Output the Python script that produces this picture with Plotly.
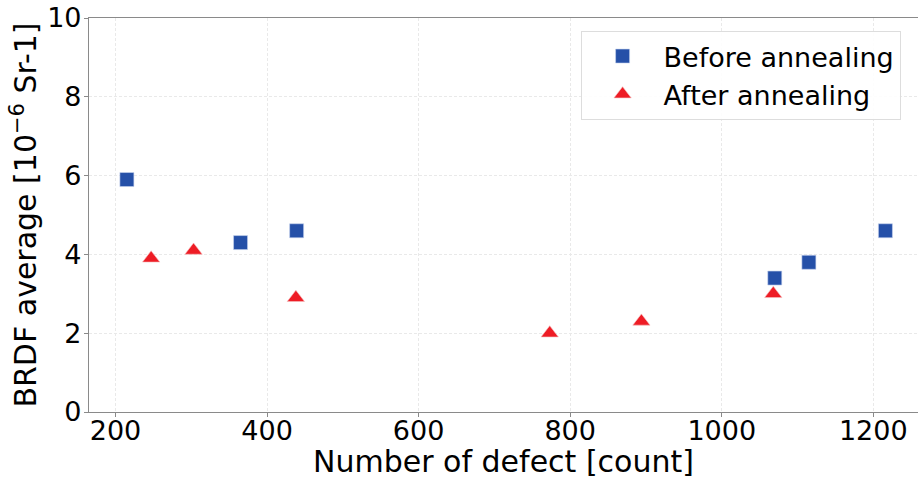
import plotly.graph_objects as go

before_x = [215, 365, 439, 1070, 1115, 1216]
before_y = [5.9, 4.3, 4.6, 3.4, 3.8, 4.6]
after_x = [247, 303, 438, 773, 894, 1068]
after_y = [3.9, 4.1, 2.9, 2.0, 2.3, 3.0]

font = "DejaVu Sans, Arial, sans-serif"

fig = go.Figure()
fig.add_trace(go.Scatter(x=before_x, y=before_y, mode="markers", name="Before annealing",
                         marker=dict(symbol="square", size=14, color="#2550A8",
                                     line=dict(width=0.6, color="#c8d4ee"))))
fig.add_trace(go.Scatter(x=after_x, y=after_y, mode="markers", name="After annealing",
                         marker=dict(symbol="triangle-up", size=15, color="#EE1C25",
                                     line=dict(width=0.6, color="#f5c0c0"))))

fig.update_layout(
    width=918, height=479,
    margin=dict(l=89, r=0, t=18, b=67, autoexpand=False),
    paper_bgcolor="white", plot_bgcolor="white",
    font=dict(family=font, size=26, color="black"),
    showlegend=True,
    legend=dict(x=0.593, y=0.967, xanchor="left", yanchor="top",
                bgcolor="rgba(255,255,255,0.9)", bordercolor="#dddddd", borderwidth=1,
                font=dict(size=27), itemwidth=72, tracegroupgap=0),
    xaxis=dict(range=[165, 1259], tickvals=[200, 400, 600, 800, 1000, 1200],
               automargin=True,
               showgrid=True, gridcolor="#e9e9e9", griddash="3px,2px", gridwidth=1,
               showline=True, linecolor="#8a8a8a", linewidth=1.2, mirror=True,
               ticks="outside", ticklen=4, tickcolor="#8a8a8a",
               ticklabelstandoff=-10,
               zeroline=False, tickfont=dict(size=27),
               title=dict(text="Number of defect [count]", font=dict(size=30), standoff=0)),
    yaxis=dict(range=[0, 10], tickvals=[0, 2, 4, 6, 8, 10],
               automargin=True,
               showgrid=True, gridcolor="#e9e9e9", griddash="3px,2px", gridwidth=1,
               showline=True, linecolor="#8a8a8a", linewidth=1.2,
               ticks="outside", ticklen=4, tickcolor="#8a8a8a",
               ticklabelstandoff=-3,
               zeroline=False, tickfont=dict(size=27),
               title=dict(text="BRDF average [10<sup>−6</sup> Sr-1]", font=dict(size=30), standoff=1)),
)

fig.write_html("out.html", config={"displayModeBar": False},
               post_script="document.body.style.margin='0';document.body.style.overflow='hidden';")
